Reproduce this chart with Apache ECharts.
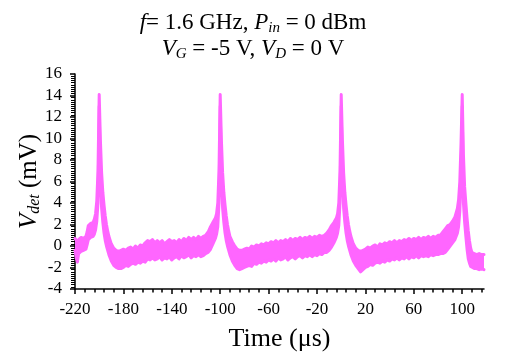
<!DOCTYPE html>
<html>
<head>
<meta charset="utf-8">
<script src="https://cdn.jsdelivr.net/npm/echarts@6/dist/echarts.min.js"></script>
<style>html,body{margin:0;padding:0;background:#fff}#c{width:506px;height:361px}</style>
</head>
<body>
<div id="c"></div>
<script>
// ---- data ----
const time = [
 -220,-219,-218,-217,-215,-213,-211,-210,-209,-207,-205,-204,-203,-202,-201,-200,
 -199,-198,-197,-196,-195,-194,-193,-192,-190,-188,-186,-184,-182,-180,-178,-176,
 -174,-172,-170,-168,-166,-164,-162,-160,-158,-156,-154,-152,-150,-148,-146,-144,
 -142,-140,-138,-136,-134,-132,-130,-128,-126,-124,-122,-120,-118,-116,-114,-112,
 -110,-108,-106,-104,-103,-102,-101,-100,
 -99,-98,-97,-96,-95,-94,-93,-92,-90,-88,-86,-84,-82,-80,-78,-76,
 -74,-72,-70,-68,-66,-64,-62,-60,-58,-56,-54,-52,-50,-48,-46,-44,
 -42,-40,-38,-36,-34,-32,-30,-28,-26,-24,-22,-20,-18,-16,-14,-12,
 -10,-8,-6,-4,-3,-2,-1,0,
 1,2,3,4,5,6,7,8,10,12,14,16,18,20,22,24,
 26,28,30,32,34,36,38,40,42,44,46,48,50,52,54,56,
 58,60,62,64,66,68,70,72,74,76,78,80,82,84,86,88,
 90,92,94,96,97,98,99,100,
 101,102,103,104,105,106,107,108,110,112,114,116,118
];
const upper = [
 0.7,0.6,0.4,0.6,0.8,0.7,0.9,1.3,1.9,2.1,2.2,2.5,3.0,4.2,7.0,14.1,
 9.8,6.8,5.0,3.8,2.8,2.0,1.4,0.9,0.2,-0.2,-0.4,-0.5,-0.4,-0.3,-0.4,-0.2,
 -0.1,-0.3,0.0,-0.2,0.1,0.0,0.3,0.5,0.4,0.6,0.3,0.5,0.3,0.5,0.2,0.4,
 0.6,0.4,0.5,0.3,0.6,0.4,0.7,0.5,0.8,0.6,0.8,0.6,0.9,0.7,0.9,1.0,
 1.3,1.8,2.2,2.6,3.0,4.0,7.0,14.1,
 9.8,6.8,5.0,3.8,2.8,2.0,1.4,0.9,0.4,0.0,-0.3,-0.4,-0.4,-0.3,-0.2,-0.3,
 0.0,-0.1,0.1,0.0,0.2,0.1,0.3,0.2,0.4,0.3,0.5,0.3,0.5,0.4,0.6,0.4,
 0.7,0.5,0.7,0.6,0.8,0.6,0.8,0.7,0.9,0.7,0.9,0.8,1.0,0.9,1.0,1.2,
 1.5,1.9,2.2,2.6,3.0,4.0,7.0,14.1,
 9.8,6.8,5.0,3.8,2.8,2.0,1.4,0.9,0.2,-0.2,-0.4,-0.5,-0.4,-0.3,-0.1,-0.2,
 0.0,0.1,-0.1,0.2,0.1,0.3,0.2,0.4,0.3,0.5,0.3,0.5,0.4,0.6,0.5,0.7,
 0.5,0.7,0.6,0.8,0.6,0.8,0.7,0.9,0.7,0.9,0.8,1.0,1.0,1.3,1.6,1.9,
 2.0,2.3,2.7,3.5,4.3,6.0,9.5,14.1,
 8.5,5.5,4.0,2.6,1.4,0.5,-0.2,-0.6,-0.7,-0.8,-0.7,-0.8,-0.8
];
const lower = [
 -0.4,-1.1,-1.5,-0.7,-0.5,-0.4,-0.3,0.1,0.6,0.8,0.9,1.1,1.5,2.3,4.0,13.0,
 6.0,3.5,2.2,1.2,0.5,0.0,-0.4,-0.8,-1.4,-1.8,-2.0,-2.1,-2.1,-2.0,-1.8,-1.9,
 -1.7,-1.6,-1.7,-1.5,-1.6,-1.4,-1.5,-1.2,-1.3,-1.1,-1.3,-1.2,-1.0,-1.3,-1.1,-1.2,
 -1.0,-1.3,-1.1,-1.0,-1.2,-0.9,-1.1,-1.0,-0.8,-1.1,-0.9,-1.0,-0.8,-1.0,-0.9,-0.7,
 -0.6,-0.3,0.2,0.7,1.1,1.8,4.0,13.0,
 6.0,3.5,2.2,1.2,0.5,0.0,-0.4,-0.8,-1.4,-1.8,-2.1,-2.2,-2.1,-2.0,-1.9,-1.8,
 -1.9,-1.6,-1.7,-1.5,-1.6,-1.4,-1.5,-1.3,-1.4,-1.2,-1.4,-1.1,-1.3,-1.2,-1.0,-1.3,
 -1.1,-1.0,-1.2,-1.0,-0.9,-1.1,-0.9,-1.0,-0.8,-1.0,-0.8,-0.9,-0.7,-0.8,-0.6,-0.6,
 -0.4,-0.1,0.3,0.8,1.2,1.9,4.0,13.0,
 6.0,3.5,2.2,1.2,0.5,0.0,-0.4,-0.8,-1.4,-1.8,-2.1,-2.4,-2.2,-2.0,-1.9,-1.7,
 -1.8,-1.6,-1.5,-1.6,-1.4,-1.5,-1.3,-1.4,-1.2,-1.3,-1.1,-1.3,-1.1,-1.2,-1.0,-1.2,
 -1.0,-1.1,-0.9,-1.1,-0.9,-1.0,-0.9,-1.0,-0.8,-0.9,-0.8,-0.8,-0.7,-0.7,-0.6,-0.3,
 0.0,0.3,0.6,1.2,1.8,3.2,6.0,13.0,
 4.0,2.2,0.9,-0.3,-1.2,-1.6,-1.9,-2.0,-2.1,-2.1,-2.2,-2.1,-2.2
];
const xTickLabels = [-220,-180,-140,-100,-60,-20,20,60,100];
const xMinorTicks = [-220,-212,-204,-196,-188,-180,-172,-164,-156,-148,-140,-132,-124,-116,-108,-100,-92,-84,-76,-68,-60,-52,-44,-36,-28,-20,-12,-4,4,12,20,28,36,44,52,60,68,76,84,92,100,108,116];
const xRange = [-220, 118];
const yRange = [-4, 16];
const yStep = 2;

// ---- chart ----
const FONT = 'Liberation Serif';
const PINK = '#ff66ff';
const chart = echarts.init(document.getElementById('c'), null, {renderer: 'canvas'});
const upperData = time.map((t, i) => [t, upper[i]]);
const lowerData = time.map((t, i) => [t, lower[i]]);
const lineStyle = {color: PINK, width: 3, cap: 'round', join: 'round'};
const txt = (extra) => Object.assign({fontFamily: FONT, color: '#000', fontWeight: 'normal'}, extra);

chart.setOption({
  animation: false,
  backgroundColor: '#fff',
  title: {
    left: 'center', top: 5,
    text: '{i|f}{n|= 1.6 GHz, }{i|P}{sub|in}{n| = 0 dBm}\n{i|V}{sub|G}{n| = -5 V, }{i|V}{sub|D}{n| = 0 V}',
    textStyle: {
      fontWeight: 'normal',
      rich: {
        n: txt({fontSize: 23, lineHeight: 24}),
        i: txt({fontSize: 23, fontStyle: 'italic', lineHeight: 24}),
        sub: txt({fontSize: 15, fontStyle: 'italic', padding: [11, 0, 0, 0]})
      }
    }
  },
  grid: {left: 75, right: 22, top: 74, bottom: 72},
  xAxis: [{
    type: 'value', min: xRange[0], max: xRange[1],
    name: 'Time (μs)', nameLocation: 'middle', nameGap: 37, nameMoveOverlap: false,
    nameTextStyle: txt({fontSize: 26}),
    axisLine: {onZero: false, lineStyle: {color: '#000', width: 1.5}},
    axisTick: {show: true, length: 5, customValues: xTickLabels, lineStyle: {color: '#000', width: 1.5}},
    axisLabel: {customValues: xTickLabels, fontFamily: FONT, fontSize: 17, color: '#000', margin: 12},
    splitLine: {show: false}
  }, {
    type: 'value', min: xRange[0], max: xRange[1], position: 'bottom',
    axisLine: {show: false, onZero: false},
    axisTick: {show: true, length: 3.5, customValues: xMinorTicks, lineStyle: {color: '#000', width: 1.5}},
    axisLabel: {show: false},
    splitLine: {show: false}
  }],
  yAxis: {
    type: 'value', min: yRange[0], max: yRange[1], interval: yStep,
    name: '{i|V}{sub|det}{n| (mV)}', nameLocation: 'middle', nameGap: 32, nameMoveOverlap: false,
    nameTextStyle: {
      rich: {
        n: txt({fontSize: 25}),
        i: txt({fontSize: 25, fontStyle: 'italic'}),
        sub: txt({fontSize: 16, fontStyle: 'italic', padding: [12, 0, 0, 0]})
      }
    },
    axisLine: {show: true, onZero: false, lineStyle: {color: '#000', width: 1.5}},
    axisTick: {show: true, length: 5, lineStyle: {color: '#000', width: 1.5}},
    minorTick: {show: true, splitNumber: 10, length: 4, lineStyle: {color: '#000', width: 1}},
    axisLabel: {fontFamily: FONT, fontSize: 17, color: '#000', margin: 13},
    splitLine: {show: false}
  },
  series: [{
    type: 'custom', name: 'band', data: [[time[0], upper[0]]],
    encode: {x: 0, y: 1}, clip: true, z: 2,
    renderItem: function (params, api) {
      const pts = [];
      for (let i = 0; i < time.length; i++) pts.push(api.coord([time[i], upper[i]]));
      for (let i = time.length - 1; i >= 0; i--) pts.push(api.coord([time[i], lower[i]]));
      return {type: 'polygon', shape: {points: pts}, style: {fill: PINK, stroke: null}};
    }
  }, {
    type: 'line', name: 'upper', data: upperData,
    showSymbol: false, symbol: 'none', lineStyle: lineStyle, z: 3
  }, {
    type: 'line', name: 'lower', data: lowerData,
    showSymbol: false, symbol: 'none', lineStyle: lineStyle, z: 3
  }]
});
</script>
</body>
</html>
